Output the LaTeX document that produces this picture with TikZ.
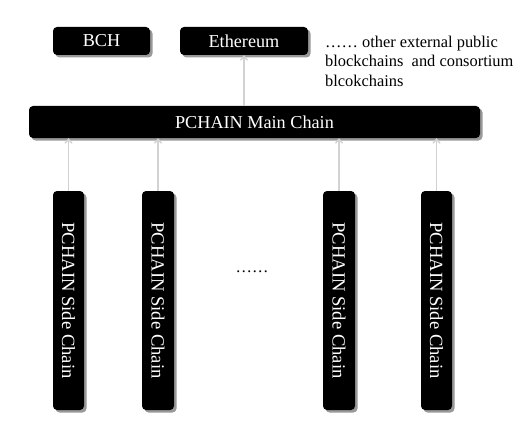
\documentclass[tikz,border=0pt]{standalone}
\usepackage{fontspec}
\setmainfont{Liberation Serif}
\usetikzlibrary{shadows,arrows.meta}
\begin{document}
\begin{tikzpicture}[x=1pt,y=1pt,
  blk/.style={fill=black,text=white,rounded corners=4pt,inner sep=0pt,
    font=\fontsize{18.2}{21}\selectfont,
    drop shadow={shadow xshift=2.5pt,shadow yshift=-2.5pt,fill=black!50,opacity=0.8}},
  arr/.style={draw=gray!35,line width=1.4pt,-{Straight Barb[length=4pt,width=7pt]}},
  lbl/.style={font=\fontsize{16.4}{19.5}\selectfont,align=left,inner sep=0pt}]
\useasboundingbox (0,0) rectangle (522,432);
\fill[white] (0,0) rectangle (522,432);
\node[blk,minimum width=97pt,minimum height=28pt] (bch) at (101.5,391) {BCH};
\node[blk,minimum width=128pt,minimum height=28pt] (eth) at (244,391) {Ethereum};
\node[lbl,anchor=west] (other) at (325,371) {…… other external public\\blockchains\ \ and consortium\\blcokchains};
\node[blk,minimum width=451pt,minimum height=32pt] (main) at (254.5,310) {PCHAIN Main Chain};
\node[blk,minimum width=31pt,minimum height=219pt,font=\fontsize{18.6}{21}\selectfont] (s1) at (68.5,131.5) {\rotatebox{-90}{PCHAIN Side Chain}};
\node[blk,minimum width=32pt,minimum height=219pt,font=\fontsize{18.6}{21}\selectfont] (s2) at (158,131.5) {\rotatebox{-90}{PCHAIN Side Chain}};
\node[blk,minimum width=32pt,minimum height=219pt,font=\fontsize{18.6}{21}\selectfont] (s3) at (339,131.5) {\rotatebox{-90}{PCHAIN Side Chain}};
\node[blk,minimum width=31pt,minimum height=219pt,font=\fontsize{18.6}{21}\selectfont] (s4) at (436.5,131.5) {\rotatebox{-90}{PCHAIN Side Chain}};
\node[lbl] (dots) at (252,160) {……};
\draw[arr] (s1.north) -- (s1.north |- main.south);
\draw[arr] (s2.north) -- (s2.north |- main.south);
\draw[arr] (s3.north) -- (s3.north |- main.south);
\draw[arr] (s4.north) -- (s4.north |- main.south);
\draw[arr] (eth.south |- main.north) -- (eth.south);
\end{tikzpicture}
\end{document}
